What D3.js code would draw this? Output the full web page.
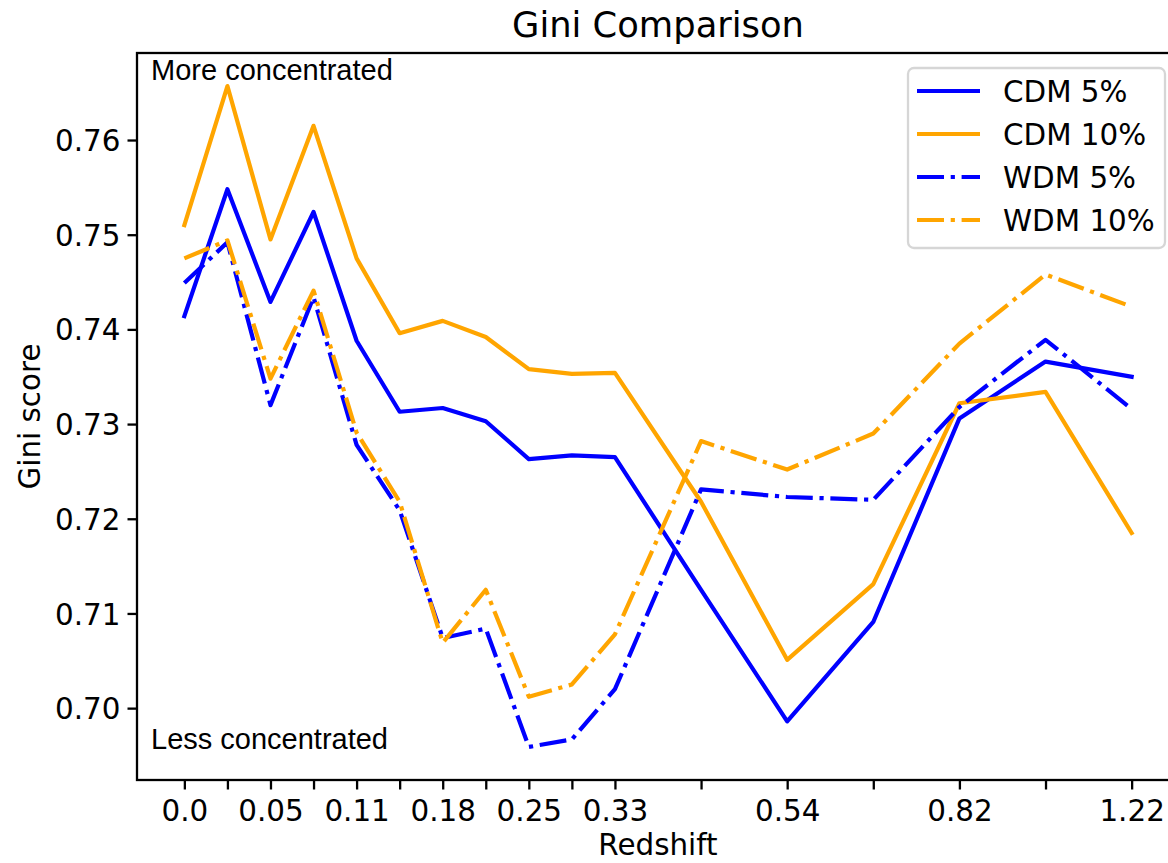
<!DOCTYPE html>
<html>
<head>
<meta charset="utf-8">
<script src="https://cdn.jsdelivr.net/npm/d3@7"></script>
<style>
  html, body { margin: 0; padding: 0; background: #fff; overflow: hidden; }
  svg { display: block; }
  text { font-family: "DejaVu Sans", sans-serif; fill: #000; }
  .note { font-family: "Liberation Sans", Arial, sans-serif; }
</style>
</head>
<body>
<svg id="chart" width="1168" height="863"></svg>
<script>
// Snapshot positions along the x axis (one per output)
const snapshots = [0, 1, 2, 3, 4, 5, 6, 7, 8, 9, 10, 12, 14, 16, 18, 20, 22];

// Redshift labels shown on every other snapshot
const tickSnapshots = [0, 2, 4, 6, 8, 10, 14, 18, 22];
const tickLabels = ["0.0", "0.05", "0.11", "0.18", "0.25", "0.33", "0.54", "0.82", "1.22"];

const yTicks = [0.70, 0.71, 0.72, 0.73, 0.74, 0.75, 0.76];

// Gini scores per series
const cdm5  = [0.7414, 0.7548, 0.7429, 0.7524, 0.7388, 0.7313, 0.7317, 0.7303, 0.7263, 0.7267, 0.7265, 0.7125, 0.6986, 0.7091, 0.7306, 0.7366, 0.7350];
const cdm10 = [0.7510, 0.7657, 0.7495, 0.7615, 0.7475, 0.7396, 0.7409, 0.7392, 0.7358, 0.7353, 0.7354, 0.7218, 0.7051, 0.7131, 0.7322, 0.7334, 0.7185];
const wdm5  = [0.7449, 0.7492, 0.7320, 0.7434, 0.7278, 0.7209, 0.7074, 0.7084, 0.6959, 0.6967, 0.7020, 0.7231, 0.7223, 0.7220, 0.7318, 0.7389, 0.7316];
const wdm10 = [0.7475, 0.7494, 0.7348, 0.7441, 0.7291, 0.7218, 0.7069, 0.7125, 0.7012, 0.7025, 0.7078, 0.7282, 0.7252, 0.7290, 0.7385, 0.7458, 0.7424];

const seriesNames = ["CDM 5%", "CDM 10%", "WDM 5%", "WDM 10%"];
const seriesValues = [cdm5, cdm10, wdm5, wdm10];

// Styling
const colors = ["#0000ff", "#ffa500", "#0000ff", "#ffa500"];
const dashed = [false, false, true, true];
const lw = 4.2;
const dashArray = "27,6.7,4.2,6.7";
const fs = 29.4;       // tick, axis label and legend text
const titleFs = 35.3;

const svg = d3.select("#chart");
const margin = { left: 137, top: 53, right: 1179, bottom: 780 };

// Axis limits with 5% padding around the data
const xMin = d3.min(snapshots), xMax = d3.max(snapshots);
const xPad = (xMax - xMin) * 0.05;
const allVals = seriesValues.flat();
const yMin = d3.min(allVals), yMax = d3.max(allVals);
const yPad = (yMax - yMin) * 0.05;

const x = d3.scaleLinear().domain([xMin - xPad, xMax + xPad]).range([margin.left, margin.right]);
const y = d3.scaleLinear().domain([yMin - yPad, yMax + yPad]).range([margin.bottom, margin.top]);

const plot = svg.append("g");

// Series lines
const line = d3.line().x((d, i) => x(snapshots[i])).y(d => y(d));
seriesValues.forEach((vals, k) => {
  plot.append("path")
    .datum(vals)
    .attr("d", line)
    .attr("fill", "none")
    .attr("stroke", colors[k])
    .attr("stroke-width", lw)
    .attr("stroke-linejoin", "round")
    .attr("stroke-linecap", dashed[k] ? "butt" : "square")
    .attr("stroke-dasharray", dashed[k] ? dashArray : null);
});

// Axes frame
svg.append("rect")
  .attr("x", margin.left).attr("y", margin.top)
  .attr("width", margin.right - margin.left)
  .attr("height", margin.bottom - margin.top)
  .attr("fill", "none").attr("stroke", "#000").attr("stroke-width", 2.3);

// X axis: a tick at every snapshot, redshift labels on every other one
const xAxis = d3.axisBottom(x)
  .tickValues(snapshots)
  .tickSize(9.5)
  .tickPadding(9)
  .tickFormat(d => {
    const j = tickSnapshots.indexOf(d);
    return j >= 0 ? tickLabels[j] : "";
  });
const gx = svg.append("g").attr("transform", `translate(0,${margin.bottom})`).call(xAxis);
gx.select(".domain").remove();
gx.selectAll(".tick line").attr("stroke", "#000").attr("stroke-width", 2.3);
gx.selectAll(".tick text")
  .attr("font-family", "DejaVu Sans").attr("font-size", fs).attr("fill", "#000")
  .attr("y", 41).attr("dy", null);

// Y axis
const yAxis = d3.axisLeft(y)
  .tickValues(yTicks)
  .tickSize(9.5)
  .tickPadding(7)
  .tickFormat(d3.format(".2f"));
const gy = svg.append("g").attr("transform", `translate(${margin.left},0)`).call(yAxis);
gy.select(".domain").remove();
gy.selectAll(".tick line").attr("stroke", "#000").attr("stroke-width", 2.3);
gy.selectAll(".tick text")
  .attr("font-family", "DejaVu Sans").attr("font-size", fs).attr("fill", "#000")
  .attr("dy", "0.36em");

// Title and axis labels
svg.append("text")
  .attr("x", (margin.left + margin.right) / 2).attr("y", 37)
  .attr("text-anchor", "middle").attr("font-size", titleFs)
  .text("Gini Comparison");

svg.append("text")
  .attr("x", (margin.left + margin.right) / 2).attr("y", 855)
  .attr("text-anchor", "middle").attr("font-size", fs)
  .text("Redshift");

svg.append("text")
  .attr("transform", `translate(40,${(margin.top + margin.bottom) / 2}) rotate(-90)`)
  .attr("text-anchor", "middle").attr("font-size", fs)
  .text("Gini score");

// Annotations inside the axes
svg.append("text").attr("class", "note")
  .attr("x", 151).attr("y", 80).attr("font-size", 29)
  .text("More concentrated");
svg.append("text").attr("class", "note")
  .attr("x", 151).attr("y", 749).attr("font-size", 29)
  .text("Less concentrated");

// Legend
const legend = svg.append("g");
const lgX = 908, lgY = 68, lgW = 257, lgH = 180;
legend.append("rect")
  .attr("x", lgX).attr("y", lgY).attr("width", lgW).attr("height", lgH)
  .attr("rx", 6).attr("ry", 6)
  .attr("fill", "#fff").attr("fill-opacity", 0.8)
  .attr("stroke", "#d6d6d6").attr("stroke-width", 2.3);
seriesNames.forEach((name, k) => {
  const cy = lgY + 23 + k * 43;
  legend.append("line")
    .attr("x1", lgX + 9).attr("x2", lgX + 72)
    .attr("y1", cy).attr("y2", cy)
    .attr("stroke", colors[k]).attr("stroke-width", lw)
    .attr("stroke-dasharray", dashed[k] ? dashArray : null);
  legend.append("text")
    .attr("x", lgX + 95).attr("y", cy).attr("dy", "0.36em")
    .attr("font-size", fs)
    .text(name);
});
</script>
</body>
</html>
